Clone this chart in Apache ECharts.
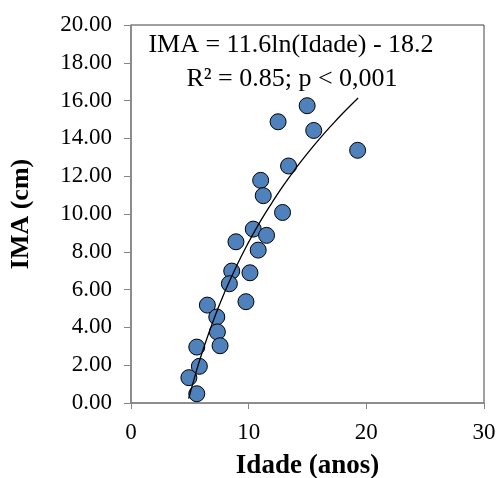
<!DOCTYPE html>
<html>
<head>
<meta charset="utf-8">
<script src="https://cdn.jsdelivr.net/npm/echarts@6/dist/echarts.min.js"></script>
<style>html,body{margin:0;padding:0;background:#fff;}#chart{width:499px;height:478px;}</style>
</head>
<body>
<div id="chart"></div>
<script>
// Observed data: age (years) and IMA (cm)
var idade = [14.97, 12.5, 15.53, 19.26, 13.39, 11.02, 11.24, 12.88, 10.39, 11.52, 8.92, 10.81, 8.56, 10.11, 8.36, 9.77, 6.49, 7.29, 7.34, 7.57, 5.59, 5.81, 4.92, 5.59];
var ima   = [15.73, 14.88, 14.42, 13.37, 12.54, 11.78, 10.97, 10.08, 9.20, 8.87, 8.53, 8.09, 6.98, 6.89, 6.31, 5.36, 5.18, 4.55, 3.76, 3.03, 2.96, 1.94, 1.34, 0.49];
// Trend line points
var trendX = [4.9, 5.5, 6, 7, 8, 9, 10, 11, 12, 13, 14, 15, 16, 17, 18, 19.3];
var trendY = [0.23, 1.57, 2.58, 4.37, 5.92, 7.29, 8.51, 9.62, 10.62, 11.55, 12.41, 13.21, 13.96, 14.66, 15.33, 16.14];
var xTicks = [0, 10, 20, 30];
var yTicks = [0, 2, 4, 6, 8, 10, 12, 14, 16, 18, 20];
var equationLines = ['IMA = 11.6ln(Idade) - 18.2', 'R\u00b2 = 0.85; p < 0,001'];

var font = '"Liberation Serif", "Times New Roman", serif';
var pts = idade.map(function (x, i) { return [x, ima[i]]; });
var trend = trendX.map(function (x, i) { return [x, trendY[i]]; });

var chart = echarts.init(document.getElementById('chart'));
chart.setOption({
  animation: false,
  backgroundColor: '#ffffff',
  grid: { left: 131, right: 15, top: 25, bottom: 75, outerBoundsMode: 'none', containLabel: false, show: true, borderColor: '#404040', borderWidth: 1, backgroundColor: 'transparent' },
  xAxis: {
    type: 'value', min: xTicks[0], max: xTicks[xTicks.length - 1], interval: 10,
    name: 'Idade (anos)', nameLocation: 'middle', nameGap: 50,
    nameTextStyle: { fontFamily: font, fontWeight: 'bold', fontSize: 27, color: '#000' },
    axisLine: { lineStyle: { color: '#868686', width: 1.5 } },
    axisTick: { show: true, length: 6, lineStyle: { color: '#868686' } },
    axisLabel: { fontFamily: font, fontSize: 23, color: '#000', margin: 18 },
    splitLine: { show: false }
  },
  yAxis: {
    type: 'value', min: yTicks[0], max: yTicks[yTicks.length - 1], interval: 2,
    name: 'IMA (cm)', nameLocation: 'middle', nameGap: 97, nameRotate: 90,
    nameTextStyle: { fontFamily: font, fontWeight: 'bold', fontSize: 26, color: '#000' },
    axisLine: { lineStyle: { color: '#868686', width: 1.5 } },
    axisTick: { show: true, length: 7, lineStyle: { color: '#868686' } },
    axisLabel: { fontFamily: font, fontSize: 23, color: '#000', margin: 19, formatter: function (v) { return v.toFixed(2); } },
    splitLine: { show: false }
  },
  graphic: [
    { type: 'text', x: 291, y: 32, style: { text: equationLines[0], font: '26px ' + font, fill: '#000', align: 'center', textAlign: 'center' } },
    { type: 'text', x: 292, y: 66, style: { text: equationLines[1], font: '26px ' + font, fill: '#000', align: 'center', textAlign: 'center' } }
  ],
  series: [
    {
      type: 'scatter', data: pts, symbol: 'circle', symbolSize: 16, z: 2,
      itemStyle: { color: '#4F81BD', borderColor: '#000', borderWidth: 1, opacity: 1 }
    },
    {
      type: 'line', data: trend, smooth: true, symbol: 'none', z: 3,
      lineStyle: { color: '#000', width: 1.3 }
    }
  ]
});
</script>
</body>
</html>
